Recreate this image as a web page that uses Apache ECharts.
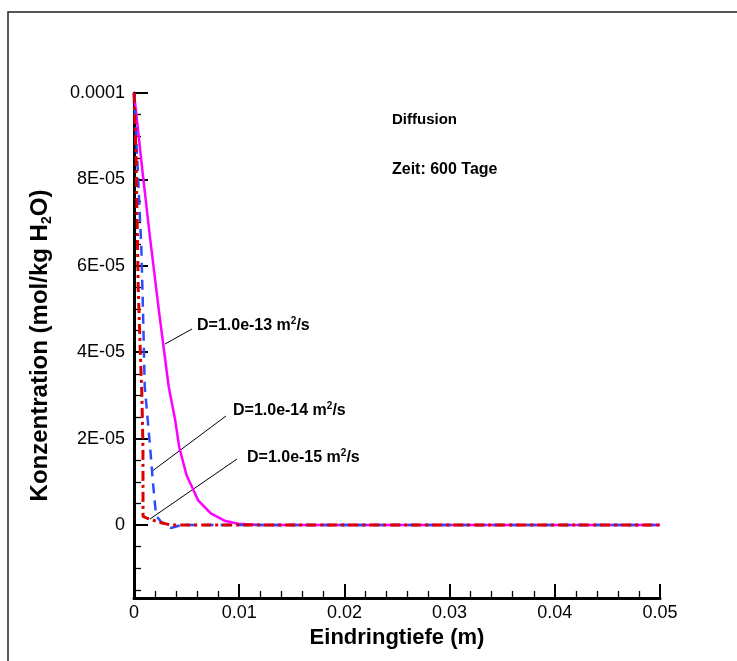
<!DOCTYPE html>
<html><head><meta charset="utf-8">
<script src="https://cdn.jsdelivr.net/npm/echarts@6/dist/echarts.min.js"></script>
<style>html,body{margin:0;padding:0;background:#fff}#c{width:737px;height:661px}</style>
</head><body><div id="c"></div>
<script>
// ---- data ----
const xD13 = [0, 0.0008, 0.0015, 0.0024, 0.0033, 0.0039, 0.0043, 0.005, 0.0061, 0.0073, 0.0086, 0.0099, 0.012, 0.05];
const yD13 = [1.0e-4, 8.2e-5, 6.7e-5, 4.9e-5, 3.2e-5, 2.45e-5, 1.8e-5, 1.15e-5, 5.7e-6, 2.7e-6, 1.0e-6, 3e-7, 0, 0];
const xD14 = [0, 0.0004, 0.0007, 0.00086, 0.00102, 0.0015, 0.0018, 0.0021, 0.0026, 0.0035, 0.0045, 0.05];
const yD14 = [1.0e-4, 8.0e-5, 6.4e-5, 4.9e-5, 3.2e-5, 1.9e-5, 9.8e-6, 2.2e-6, 6.5e-7, -7e-7, 0, 0];
const xD15 = [0, 0.0002, 0.0004, 0.0006, 0.00075, 0.00085, 0.00086, 0.0013, 0.0026, 0.0035, 0.05];
const yD15 = [1.0e-4, 8.5e-5, 5.5e-5, 4.0e-5, 3.0e-5, 1.8e-5, 2e-6, 1.5e-6, 5e-7, 0, 0];
const seriesNames = ['D=1.0e-13 m2/s', 'D=1.0e-14 m2/s', 'D=1.0e-15 m2/s'];

const yTickValues = [0, 2e-5, 4e-5, 6e-5, 8e-5, 1e-4];
const yTickLabels = ['0', '2E-05', '4E-05', '6E-05', '8E-05', '0.0001'];
const yMinorValues = [-1.5e-5, -1e-5, -5e-6, 5e-6, 1e-5, 1.5e-5, 2.5e-5, 3e-5, 3.5e-5, 4.5e-5, 5e-5, 5.5e-5, 6.5e-5, 7e-5, 7.5e-5, 8.5e-5, 9e-5, 9.5e-5];
const yMin = -1.69e-5, yMax = 1e-4;
const xMin = 0, xMax = 0.05, xStep = 0.01;

const xTitle = 'Eindringtiefe (m)';
const textDiff = 'Diffusion';
const textZeit = 'Zeit: 600 Tage';

const pairs = (xs, ys) => xs.map((x, i) => [x, ys[i]]);

const chart = echarts.init(document.getElementById('c'), null, {renderer: 'canvas'});
const FONT = 'Liberation Sans, Arial, sans-serif';

function yLabel(v) {
  for (let i = 0; i < yTickValues.length; i++) if (Math.abs(v - yTickValues[i]) < 1e-9) return yTickLabels[i];
  return '';
}

const supText = (s) => '{a|' + s.replace('m2/s', 'm}{s|2}{a|/s}');
const annRich = {a: {font: 'bold 16px ' + FONT, fill: '#000', lineHeight: 19}, s: {font: 'bold 10px ' + FONT, fill: '#000', verticalAlign: 'top', lineHeight: 19}};

chart.setOption({
  animation: false,
  backgroundColor: '#fff',
  grid: {left: 134, right: 77, top: 93, bottom: 63, containLabel: false},
  xAxis: {
    type: 'value', min: xMin, max: xMax, interval: xStep,
    name: xTitle, nameLocation: 'middle', nameGap: 24,
    nameTextStyle: {fontFamily: FONT, fontSize: 22, fontWeight: 'bold', color: '#000'},
    axisLine: {show: true, onZero: false, lineStyle: {color: '#000', width: 3}},
    axisTick: {show: true, inside: true, length: 14, lineStyle: {color: '#000', width: 2}},
    minorTick: {show: true, splitNumber: 5, length: 7, lineStyle: {color: '#000', width: 1.3}},
    axisLabel: {fontFamily: FONT, fontSize: 18, color: '#000', margin: 6},
    splitLine: {show: false}
  },
  yAxis: [{
    type: 'value', min: yMin, max: yMax,
    name: '{n|Konzentration (mol/kg H}{s|2}{n|O)}', nameLocation: 'middle', nameGap: 80,
    nameTextStyle: {fontFamily: FONT, fontSize: 24, fontWeight: 'bold', color: '#000',
      rich: {n: {fontFamily: FONT, fontSize: 24, fontWeight: 'bold', color: '#000', lineHeight: 28},
             s: {fontFamily: FONT, fontSize: 14, fontWeight: 'bold', color: '#000', verticalAlign: 'bottom', lineHeight: 28, padding: [11, 0, 0, 0]}}},
    axisLine: {show: true, onZero: false, lineStyle: {color: '#000', width: 3}},
    axisTick: {show: true, inside: true, length: 14, customValues: yTickValues, lineStyle: {color: '#000', width: 2}},
    axisLabel: {fontFamily: FONT, fontSize: 18, color: '#000', margin: 9, customValues: yTickValues, formatter: yLabel},
    splitLine: {show: false}
  }, {
    type: 'value', min: yMin, max: yMax, position: 'left',
    axisLine: {show: false},
    axisTick: {show: true, inside: true, length: 7, customValues: yMinorValues, lineStyle: {color: '#000', width: 1.3}},
    axisLabel: {show: false},
    splitLine: {show: false}
  }],
  series: [
    {name: seriesNames[0], type: 'line', data: pairs(xD13, yD13), symbol: 'none', z: 3,
     lineStyle: {color: '#ff00ff', width: 2.5}},
    {name: seriesNames[1], type: 'line', data: pairs(xD14, yD14), symbol: 'none', z: 4,
     lineStyle: {color: '#2a4cff', width: 2.5, type: [10, 7]}},
    {name: seriesNames[2], type: 'line', data: pairs(xD15, yD15), symbol: 'none', z: 5,
     lineStyle: {color: '#dc0000', width: 3, type: [10, 4, 3, 4]}}
  ],
  graphic: [
    {type: 'polyline', shape: {points: [[8, 661], [8, 12], [737, 12]]}, style: {stroke: '#222', lineWidth: 1.5, fill: null}, z: 10},
    {type: 'text', left: 392, top: 112, style: {text: textDiff, font: 'bold 15px ' + FONT, fill: '#000'}},
    {type: 'text', left: 392, top: 162, style: {text: textZeit, font: 'bold 16px ' + FONT, fill: '#000'}},
    {type: 'line', shape: {x1: 165, y1: 344, x2: 192, y2: 329}, style: {stroke: '#000', lineWidth: 1}},
    {type: 'line', shape: {x1: 151, y1: 472, x2: 226, y2: 416}, style: {stroke: '#000', lineWidth: 1}},
    {type: 'line', shape: {x1: 150, y1: 519, x2: 237, y2: 459}, style: {stroke: '#000', lineWidth: 1}},
    {type: 'text', x: 197, y: 326, style: {text: supText(seriesNames[0]), verticalAlign: 'middle', rich: annRich}},
    {type: 'text', x: 233, y: 411, style: {text: supText(seriesNames[1]), verticalAlign: 'middle', rich: annRich}},
    {type: 'text', x: 247, y: 458, style: {text: supText(seriesNames[2]), verticalAlign: 'middle', rich: annRich}}
  ]
});
</script>
</body></html>
